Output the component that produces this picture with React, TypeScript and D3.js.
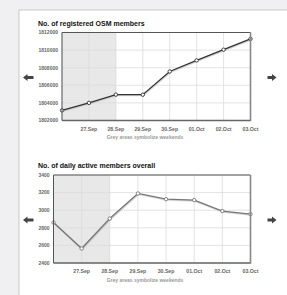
import React from "react";
import * as d3 from "d3";

const dates = ["26.Sep", "27.Sep", "28.Sep", "29.Sep", "30.Sep", "01.Oct", "02.Oct", "03.Oct"];
const registered = [1803150, 1804000, 1804940, 1804930, 1807570, 1808830, 1810050, 1811270];
const active = [2860, 2565, 2905, 3190, 3125, 3115, 2990, 2955];
const regTicks = [1802000, 1804000, 1806000, 1808000, 1810000, 1812000];
const actTicks = [2400, 2600, 2800, 3000, 3200, 3400];
const weekendRange = [0, 2];

const FONT = "'Liberation Sans', Arial, sans-serif";

type ChartProps = {
  title: string;
  values: number[];
  ticks: number[];
  top: number;
  left: number;
  lineColor: string;
};

function Chart({ title, values, ticks, top, left, lineColor }: ChartProps) {
  const right = 250.5;
  const height = 88;
  const bottom = top + height;
  const x = d3.scaleLinear().domain([0, dates.length - 1]).range([left, right]);
  const y = d3.scaleLinear().domain([ticks[0], ticks[ticks.length - 1]]).range([bottom, top]);
  const line = d3.line<number>().x((_, i) => x(i)).y((d) => y(d));
  const path = line(values) || "";
  const arrowY = top + 45;
  return (
    <g>
      <text x={38} y={top - 7} fontSize={7} fontWeight="bold" fill="#111" fontFamily={FONT}>
        {title}
      </text>
      <rect x={left} y={top} width={right - left} height={height} fill="#fff" />
      <rect
        x={x(weekendRange[0])}
        y={top}
        width={x(weekendRange[1]) - x(weekendRange[0])}
        height={height}
        fill="#e8e8e8"
      />
      {ticks.map((t) => (
        <line key={"h" + t} x1={left} x2={right} y1={y(t)} y2={y(t)} stroke="#dcdcdc" strokeWidth={0.8} />
      ))}
      {dates.map((d, i) => (
        <line key={"v" + d} x1={x(i)} x2={x(i)} y1={top} y2={bottom} stroke="#dcdcdc" strokeWidth={0.8} />
      ))}
      <path d={path} fill="none" stroke="#bbb" strokeWidth={1.6} transform="translate(0.6,0.8)" opacity={0.6} />
      <path d={path} fill="none" stroke={lineColor} strokeWidth={1.3} />
      {values.map((v, i) => (
        <circle key={"c" + i} cx={x(i)} cy={y(v)} r={1.7} fill="#fff" stroke={lineColor} strokeWidth={0.9} />
      ))}
      <line x1={left} x2={right} y1={top} y2={top} stroke="#555" strokeWidth={1} />
      <line x1={left} x2={left} y1={top} y2={bottom} stroke="#555" strokeWidth={1} />
      <line x1={left} x2={right} y1={bottom} y2={bottom} stroke="#666" strokeWidth={1.4} />
      <line x1={right} x2={right} y1={top} y2={bottom + 0.7} stroke="#888" strokeWidth={1.6} />
      {ticks.map((t) => (
        <text
          key={"yt" + t}
          x={left - 4}
          y={y(t) + 1.8}
          fontSize={5}
          textAnchor="end"
          fill="#666"
          fontFamily={FONT}
          fontWeight="bold"
        >
          {t}
        </text>
      ))}
      {dates.map((d, i) =>
        i === 0 ? null : (
          <text
            key={"xt" + d}
            x={x(i)}
            y={bottom + 10}
            fontSize={5.2}
            textAnchor="middle"
            fill="#666"
            fontFamily={FONT}
            fontWeight="bold"
          >
            {d}
          </text>
        )
      )}
      <text x={145} y={bottom + 18.5} fontSize={5} textAnchor="middle" fill="#999" fontFamily={FONT} fontWeight="bold">
        Grey areas symbolize weekends
      </text>
      <path d={`M23,${arrowY} l4.5,-3.5 v2 h6 v3 h-6 v2 z`} fill="#444" />
      <path d={`M276.5,${arrowY} l-4.5,-3.5 v2 h-4.5 v3 h4.5 v2 z`} fill="#444" />
    </g>
  );
}

export default function App() {
  return (
    <svg
      width={287}
      height={295}
      style={{ position: "absolute", left: 0, top: 0, display: "block" }}
    >
      <rect x={0} y={0} width={287} height={295} fill="#f0f0f2" />
      <rect x={19} y={10} width={280} height={300} fill="#fff" stroke="#c8c8c8" strokeWidth={1} />
      <Chart
        title="No. of registered OSM members"
        values={registered}
        ticks={regTicks}
        top={32.5}
        left={62}
        lineColor="#333"
      />
      <Chart
        title="No. of daily active members overall"
        values={active}
        ticks={actTicks}
        top={175}
        left={53.5}
        lineColor="#777"
      />
    </svg>
  );
}
